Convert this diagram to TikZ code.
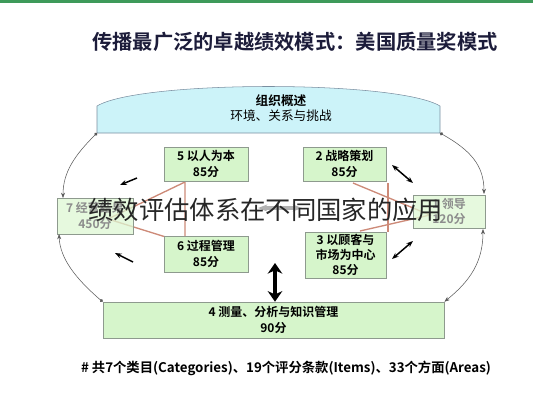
\documentclass[tikz,border=0pt]{standalone}
\usepackage{fontspec}
\newfontfamily\cjk{Noto Sans CJK SC}[BoldFont={Noto Sans CJK SC Bold}]
\usepackage{tikz}
\usetikzlibrary{arrows.meta, positioning, calc}

\definecolor{boxgreen}{HTML}{D6F5CB}
\definecolor{sidegreen}{HTML}{DDF7D3}
\definecolor{boxedge}{HTML}{8E9A8E}
\definecolor{arccyan}{HTML}{CCF3F9}
\definecolor{arcedge}{HTML}{7A8EA0}
\definecolor{triline}{HTML}{CD8A78}
\definecolor{topgreen}{HTML}{3E9A5A}
\definecolor{titleink}{HTML}{1C1C3A}

\begin{document}
\begin{tikzpicture}[
  x=0.75pt, y=-0.75pt,
  >=Stealth,
  catbox/.style={draw=boxedge, fill=boxgreen, align=center, inner sep=0pt,
    font=\cjk\bfseries\fontsize{9}{11.5}\selectfont},
  sidebox/.style={catbox, fill=sidegreen, fill opacity=0.75, text opacity=1, text=black!45},
  flow/.style={gray!70!black, thin, {Circle[length=2.5pt]}-{Stealth[length=4pt]}},
  link/.style={black, line width=1.1pt, -{Stealth[length=5pt]}},
  triad/.style={triline, line width=1pt},
]

\useasboundingbox (0,0) rectangle (533,400);
\fill[topgreen] (0,0) rectangle (533,2.5);

% --- Title ---
\node[font=\cjk\bfseries\fontsize{15.2}{17}\selectfont, text=titleink] (title) at (295,42)
  {传播最广泛的卓越绩效模式：美国质量奖模式};

% --- Organizational profile ---
\coordinate (topL) at (97,133);
\coordinate (topR) at (440,133);
\draw[arcedge, fill=arccyan] (topL) -- (97,106) .. controls (140,80) and (397,80) .. (440,106) -- (topR) -- cycle;
\node[align=center, font=\cjk\fontsize{9.5}{11.5}\selectfont] (overview) at (281,108)
  {\textbf{组织概述}\\环境、关系与挑战};

% --- Triads ---
\draw[triad] (108,219) -- (185,182) -- (185,243) -- cycle;
\draw[triad] (353,183) -- (430,215) -- (360,231);
\draw[triad] (388,183) -- (388,232);

% --- Categories ---
\node[catbox, minimum width=63pt, minimum height=25.5pt] (people) at (206,164) {5 以人为本\\85分};
\node[catbox, minimum width=62pt, minimum height=25.5pt] (strategy) at (344.5,164) {2 战略策划\\85分};
\node[catbox, minimum width=63pt, minimum height=27pt] (process) at (206,254) {6 过程管理\\85分};
\node[catbox, minimum width=61pt, minimum height=34.5pt] (customer) at (345.5,255) {3 以顾客与\\市场为中心\\85分};
\node[sidebox, minimum width=57pt, minimum height=27pt] (results) at (95,216) {7 经营结果\\450分};
\node[sidebox, minimum width=54pt, minimum height=25pt] (leader) at (449,211.5) {1 领导\\120分};
\node[catbox, minimum width=256pt, minimum height=27pt] (measure) at (273.5,320) {4 测量、分析与知识管理\\90分};

% --- Flows round the frame ---
\coordinate (resTop) at (63,198);
\coordinate (resBot) at (59,234);
\coordinate (leadTop) at (484,194);
\coordinate (leadBot) at (483,229);
\draw[flow] (topL) .. controls (75,155) and (63,172) .. (resTop);
\draw[flow] (measure.north west) .. controls (75,278) and (60,258) .. (resBot);
\draw[flow] (topR) .. controls (470,150) and (484,165) .. (leadTop);
\draw[gray!70!black, thin, {Stealth[length=4pt]}-{Stealth[length=4pt]}]
  (leadBot) .. controls (483,262) and (470,281) .. (measure.north east);

% --- Links ---
\coordinate (lu) at (137,178);
\coordinate (ld) at (133,262);
\coordinate (ru) at (392,165);
\coordinate (rd) at (392,259);
\draw[link] (lu) -- (120,185);
\draw[link] (ld) -- (115,253);
\draw[link, {Stealth[length=5pt]}-{Stealth[length=5pt]}] (ru) -- (413,183);
\draw[link, {Stealth[length=5pt]}-{Stealth[length=5pt]}] (rd) -- (413,241);
\coordinate (midL) at (258,208);
\coordinate (midR) at (302,208);
\draw[gray!60, line width=2.5pt, {Stealth[length=7pt]}-{Stealth[length=7pt]}] (midL) -- (midR);
\coordinate (upTip) at (275,263);
\draw[black, line width=2.5pt, {Stealth[length=8pt,width=11pt]}-{Stealth[length=8pt,width=11pt]}]
  (upTip) -- (measure.north -| upTip);

% --- Footer ---
\node[font=\cjk\bfseries\fontsize{10}{12}\selectfont] (footer) at (286,368)
  {\# 共7个类目(Categories)、19个评分条款(Items)、33个方面(Areas)};

% --- Overlay caption ---
\node[font=\cjk\fontsize{19}{21}\selectfont, text=black!85] (caption) at (266,210)
  {绩效评估体系在不同国家的应用};

\end{tikzpicture}
\end{document}
